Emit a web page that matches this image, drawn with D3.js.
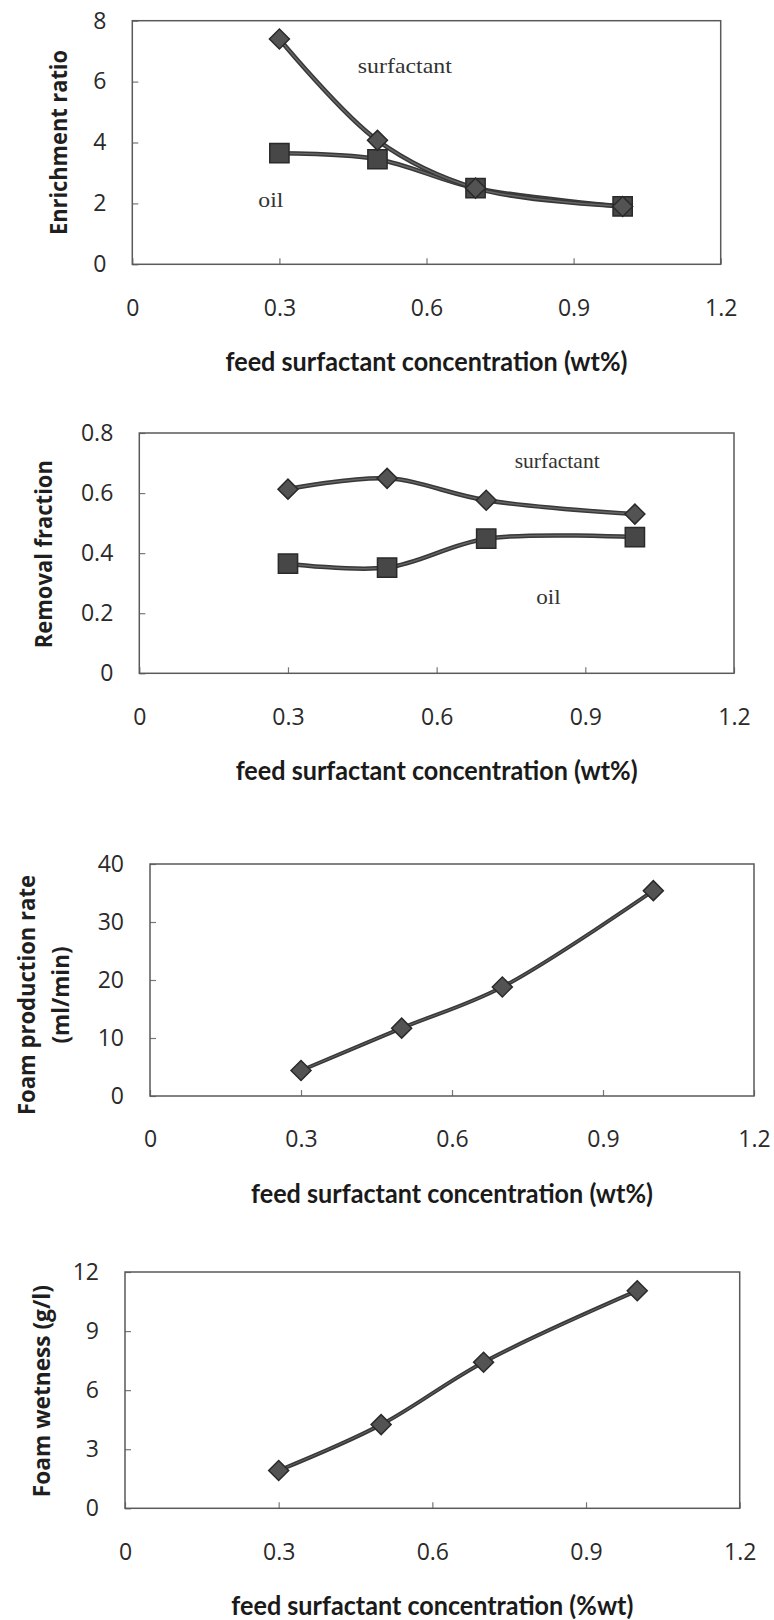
<!DOCTYPE html>
<html>
<head>
<meta charset="utf-8">
<script src="https://cdn.jsdelivr.net/npm/d3@7"></script>
<style>
  body { margin: 0; background: #fff; }
</style>
</head>
<body>
<script>
// feed surfactant concentration (wt%)
const conc = [0.3, 0.5, 0.7, 1.0];

// panel 1: enrichment ratio
const enrichSurfactant = [7.4, 4.07, 2.5, 1.9];
const enrichOil = [3.65, 3.45, 2.5, 1.9];

// panel 2: removal fraction
const removalSurfactant = [0.613, 0.649, 0.576, 0.53];
const removalOil = [0.365, 0.352, 0.448, 0.453];

// panel 3: foam production rate (ml/min)
const foamRate = [4.4, 11.7, 18.8, 35.4];

// panel 4: foam wetness (g/l)
const foamWetness = [1.92, 4.25, 7.42, 11.05];

const xTicks = [0, 0.3, 0.6, 0.9, 1.2];
const xTickLabels = ["0", "0.3", "0.6", "0.9", "1.2"];
const enrichTicks = [0, 2, 4, 6, 8];
const removalTicks = [0, 0.2, 0.4, 0.6, 0.8];
const removalTickLabels = ["0", "0.2", "0.4", "0.6", "0.8"];
const rateTicks = [0, 10, 20, 30, 40];
const wetnessTicks = [0, 3, 6, 9, 12];

const textColor = "#2a2a2a";
const lineColor = "#383838";

const svg = d3.select("body").append("svg")
  .attr("width", 774)
  .attr("height", 1620);

svg.append("rect").attr("width", 774).attr("height", 1620).attr("fill", "#fff");

const panels = [
  {
    left: 132.3, right: 720.7, top: 20.7, bottom: 264.3,
    yMax: 8, yTicks: enrichTicks, yLabels: enrichTicks.map(String),
    yTitle: [{ text: "Enrichment ratio", dx: -74, len: 185 }], yTitleShift: 0,
    xTitle: "feed surfactant concentration (wt%)",
    series: [
      { values: enrichOil, marker: "square" },
      { values: enrichSurfactant, marker: "diamond" },
    ],
    labels: [
      { text: "surfactant", x: 0.46, y: 6.29, len: 94 },
      { text: "oil", x: 0.257, y: 1.89, len: 25 },
    ],
    lineWidth: 4.5,
  },
  {
    left: 139.3, right: 734, top: 433, bottom: 673.3,
    yMax: 0.8, yTicks: removalTicks, yLabels: removalTickLabels,
    yTitle: [{ text: "Removal fraction", dx: -96, len: 188 }], yTitleShift: 1,
    xTitle: "feed surfactant concentration (wt%)",
    series: [
      { values: removalSurfactant, marker: "diamond" },
      { values: removalOil, marker: "square" },
    ],
    labels: [
      { text: "surfactant", x: 0.7575, y: 0.683, len: 85 },
      { text: "oil", x: 0.801, y: 0.231, len: 24.4 },
    ],
    lineWidth: 4.5,
  },
  {
    left: 150, right: 754, top: 864, bottom: 1096,
    yMax: 40, yTicks: rateTicks, yLabels: rateTicks.map(String),
    yTitle: [
      { text: "Foam production rate", dx: -124, len: 240 },
      { text: "(ml/min)", dx: -90, len: 97 },
    ], yTitleShift: 15,
    xTitle: "feed surfactant concentration (wt%)",
    series: [{ values: foamRate, marker: "diamond" }],
    labels: [],
    lineWidth: 4,
  },
  {
    left: 125, right: 739.7, top: 1272, bottom: 1508.3,
    yMax: 12, yTicks: wetnessTicks, yLabels: wetnessTicks.map(String),
    yTitle: [{ text: "Foam wetness (g/l)", dx: -83.3, len: 212 }], yTitleShift: 1,
    xTitle: "feed surfactant concentration (%wt)",
    series: [{ values: foamWetness, marker: "diamond" }],
    labels: [],
    lineWidth: 4,
  },
];

function drawPanel(p) {
  const x = d3.scaleLinear().domain([0, 1.2]).range([p.left, p.right]);
  const y = d3.scaleLinear().domain([0, p.yMax]).range([p.bottom, p.top]);
  const g = svg.append("g");

  // x axis (ticks point inward, labels sit well below the frame)
  const xa = g.append("g")
    .attr("transform", `translate(0,${p.bottom})`)
    .call(d3.axisBottom(x)
      .tickValues(xTicks)
      .tickFormat((d, i) => xTickLabels[i])
      .tickSizeInner(-6)
      .tickSizeOuter(0));
  xa.select(".domain").remove();
  xa.selectAll("line").attr("stroke", "#777").attr("stroke-width", 1.2);
  xa.selectAll("text")
    .attr("y", 43)
    .attr("dy", "0.36em")
    .attr("fill", textColor)
    .attr("font-family", "'Open Sans', sans-serif")
    .attr("font-size", 23);

  // y axis
  const ya = g.append("g")
    .attr("transform", `translate(${p.left},0)`)
    .call(d3.axisLeft(y)
      .tickValues(p.yTicks)
      .tickFormat((d, i) => p.yLabels[i])
      .tickSizeInner(-6)
      .tickSizeOuter(0)
      .tickPadding(26));
  ya.select(".domain").remove();
  ya.selectAll("line").attr("stroke", "#777").attr("stroke-width", 1.2);
  ya.selectAll("text")
    .attr("fill", textColor)
    .attr("font-family", "'Open Sans', sans-serif")
    .attr("font-size", 23);

  // frame
  g.append("rect")
    .attr("x", p.left)
    .attr("y", p.top)
    .attr("width", p.right - p.left)
    .attr("height", p.bottom - p.top)
    .attr("fill", "none")
    .attr("stroke", "#5a5a5a")
    .attr("stroke-width", 1.5);

  // x axis title
  g.append("text")
    .attr("x", (p.left + p.right) / 2)
    .attr("y", p.bottom + 107)
    .attr("text-anchor", "middle")
    .attr("font-family", "Lato, 'Open Sans', sans-serif")
    .attr("font-weight", "bold")
    .attr("font-size", 26)
    .attr("fill", "#1a1a1a")
    .attr("textLength", 402)
    .attr("lengthAdjust", "spacingAndGlyphs")
    .text(p.xTitle);

  // y axis title
  const cy = (p.top + p.bottom) / 2 + p.yTitleShift;
  p.yTitle.forEach((t) => {
    g.append("text")
      .attr("transform", `translate(${p.left + t.dx},${cy}) rotate(-90)`)
      .attr("text-anchor", "middle")
      .attr("dy", "0.36em")
      .attr("font-family", "'Open Sans', sans-serif")
      .attr("font-weight", "bold")
      .attr("font-size", 24)
      .attr("fill", "#1f1f1f")
      .attr("textLength", t.len)
      .attr("lengthAdjust", "spacingAndGlyphs")
      .text(t.text);
  });

  const line = d3.line()
    .x((d, i) => x(conc[i]))
    .y((d) => y(d))
    .curve(d3.curveCatmullRom.alpha(0.5));

  p.series.forEach((s) => {
    g.append("path")
      .attr("d", line(s.values))
      .attr("fill", "none")
      .attr("stroke", lineColor)
      .attr("stroke-width", p.lineWidth)
      .attr("stroke-linejoin", "round");
    g.append("path")
      .attr("d", line(s.values))
      .attr("fill", "none")
      .attr("stroke", "#666")
      .attr("stroke-width", p.lineWidth - 3);
  });

  const diamond = d3.symbol(d3.symbolSquare, 200);
  const square = d3.symbol(d3.symbolSquare, 370);

  p.series.forEach((s) => {
    g.selectAll(null)
      .data(s.values)
      .join("path")
      .attr("d", s.marker === "square" ? square() : diamond())
      .attr("transform", (d, i) =>
        `translate(${x(conc[i])},${y(d)})` + (s.marker === "diamond" ? " rotate(45)" : ""))
      .attr("fill", s.marker === "square" ? "#474747" : "#535353")
      .attr("stroke", "#2a2a2a")
      .attr("stroke-width", 1.5);
  });

  p.labels.forEach((l) => {
    g.append("text")
      .attr("x", x(l.x))
      .attr("y", y(l.y))
      .attr("font-family", "'Liberation Serif', 'Times New Roman', serif")
      .attr("font-size", 21)
      .attr("fill", "#333")
      .attr("textLength", l.len)
      .attr("lengthAdjust", "spacingAndGlyphs")
      .text(l.text);
  });
}

panels.forEach(drawPanel);
</script>
</body>
</html>
